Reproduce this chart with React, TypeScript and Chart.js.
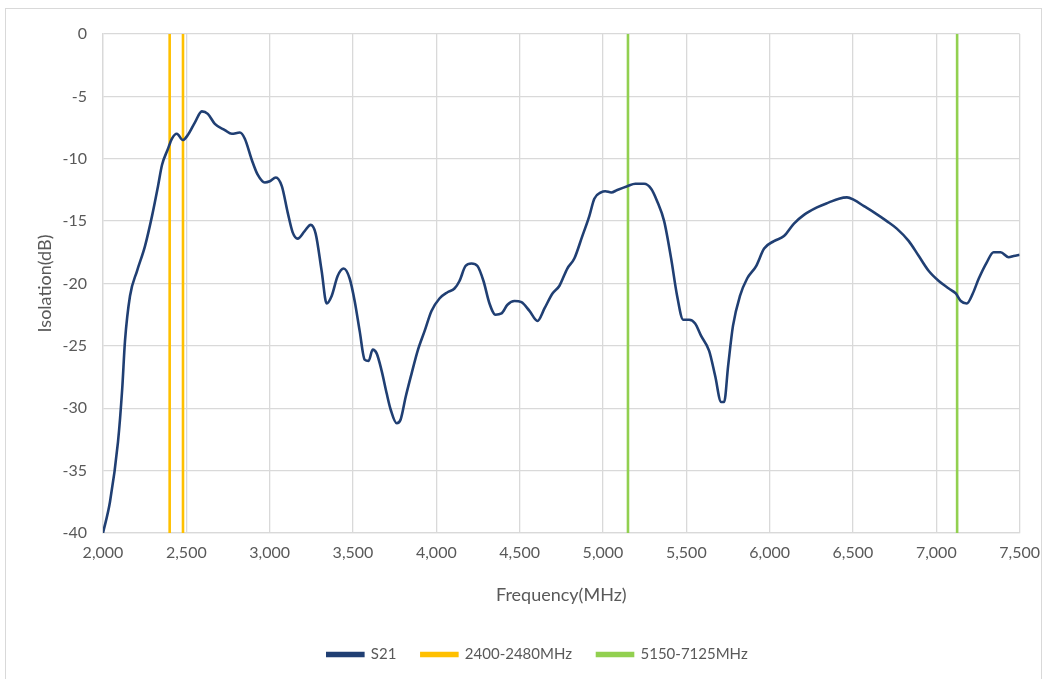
import React, { useEffect, useRef } from "react";
import { Chart, registerables } from "chart.js";

Chart.register(...registerables);

const freqMHz = [
  2000, 2042, 2090, 2115, 2132, 2162, 2204, 2252, 2294, 2330, 2354, 2390, 2413, 2443, 2479, 2509,
  2551, 2593, 2629, 2671, 2731, 2773, 2821, 2851, 2893, 2929, 2971, 3001, 3037, 3073, 3108, 3138,
  3168, 3210, 3246, 3276, 3312, 3342, 3372, 3408, 3444, 3480, 3510, 3540, 3570, 3594, 3618, 3642,
  3672, 3702, 3726, 3762, 3786, 3816, 3852, 3888, 3930, 3971, 4019, 4067, 4109, 4139, 4175, 4211,
  4247, 4283, 4319, 4355, 4391, 4427, 4469, 4511, 4559, 4607, 4649, 4697, 4738, 4786, 4828, 4876,
  4918, 4948, 4988, 5014, 5050, 5086, 5146, 5194, 5247, 5289, 5325, 5367, 5409, 5445, 5481, 5517,
  5553, 5589, 5637, 5673, 5709, 5727, 5751, 5780, 5822, 5865, 5919, 5967, 6026, 6086, 6146, 6206,
  6284, 6356, 6416, 6464, 6506, 6566, 6626, 6703, 6763, 6835, 6895, 6955, 7015, 7075, 7117, 7147,
  7183, 7219, 7255, 7303, 7344, 7386, 7434, 7464, 7500,
];

const s21dB = [
  -40.0, -37.5, -32.7, -28.5, -24.6, -21.0, -19.0, -17.0, -14.6, -12.2, -10.5, -9.2, -8.4, -8.0, -8.5, -8.1,
  -7.1, -6.2, -6.4, -7.2, -7.7, -8.0, -7.9, -8.4, -10.1, -11.3, -11.9, -11.8, -11.5, -12.2, -14.3, -15.9,
  -16.4, -15.8, -15.3, -16.0, -19.0, -21.6, -21.0, -19.4, -18.8, -19.6, -21.4, -23.8, -26.1, -26.2, -25.3, -25.6,
  -27.0, -28.8, -30.1, -31.2, -30.9, -29.1, -27.2, -25.4, -23.8, -22.2, -21.2, -20.7, -20.4, -19.8, -18.6, -18.4,
  -18.6, -19.8, -21.6, -22.5, -22.4, -21.7, -21.4, -21.5, -22.2, -23.0, -22.0, -20.8, -20.2, -18.8, -18.0, -16.2,
  -14.6, -13.2, -12.7, -12.6, -12.7, -12.5, -12.2, -12.0, -12.0, -12.4, -13.4, -15.0, -18.0, -21.0, -22.9, -22.9,
  -23.2, -24.2, -25.4, -27.4, -29.5, -29.5, -26.6, -23.4, -21.0, -19.6, -18.6, -17.2, -16.6, -16.2, -15.2, -14.5,
  -13.9, -13.5, -13.2, -13.1, -13.3, -13.8, -14.3, -15.0, -15.6, -16.6, -17.8, -19.0, -19.8, -20.4, -20.8, -21.4,
  -21.6, -20.8, -19.6, -18.3, -17.5, -17.5, -17.9, -17.8, -17.7,
];

const wifi24Edges = [2400, 2480];
const wifi5to6Edges = [5150, 7125];
const seriesLabels = ["S21", "2400-2480MHz", "5150-7125MHz"];
const seriesColors = ["#203f73", "#ffc000", "#92d050"];
const yRange = [-40, 0];
const xRange = [2000, 7500];

function edgeLines(edges: number[]) {
  const pts: { x: number; y: number | null }[] = [];
  edges.forEach((e, i) => {
    if (i > 0) pts.push({ x: (edges[i - 1] + e) / 2, y: null });
    pts.push({ x: e, y: yRange[1] });
    pts.push({ x: e, y: yRange[0] });
  });
  return pts;
}

const borderPlugin = {
  id: "outerBorder",
  beforeDraw(chart: any) {
    const { ctx } = chart;
    ctx.save();
    ctx.fillStyle = "#ffffff";
    ctx.fillRect(0, 0, chart.width, chart.height);
    ctx.strokeStyle = "#d9d9d9";
    ctx.lineWidth = 1;
    ctx.strokeRect(5.5, 8.5, 1036, 690);
    ctx.restore();
  },
};

const legendShiftPlugin = {
  id: "legendShift",
  afterLayout(chart: any) {
    const lg = chart.legend;
    if (!lg) return;
    const dx = 27;
    const dy = -7;
    lg.left += dx;
    lg.right += dx;
    lg.top += dy;
    lg.bottom += dy;
  },
};

export default function App() {
  const ref = useRef<HTMLCanvasElement | null>(null);

  useEffect(() => {
    document.body.style.margin = "0";
    const canvas = ref.current;
    if (!canvas) return;
    const font = "Lato, 'Liberation Sans', sans-serif";
    const chart = new Chart(canvas, {
      type: "line",
      data: {
        datasets: [
          {
            label: seriesLabels[0],
            data: freqMHz.map((f, i) => ({ x: f, y: s21dB[i] })),
            borderColor: seriesColors[0],
            backgroundColor: seriesColors[0],
            borderWidth: 2.6,
            pointRadius: 0,
            cubicInterpolationMode: "monotone",
          },
          {
            label: seriesLabels[1],
            data: edgeLines(wifi24Edges),
            borderColor: seriesColors[1],
            backgroundColor: seriesColors[1],
            borderWidth: 2.6,
            pointRadius: 0,
            spanGaps: false,
          },
          {
            label: seriesLabels[2],
            data: edgeLines(wifi5to6Edges),
            borderColor: seriesColors[2],
            backgroundColor: seriesColors[2],
            borderWidth: 2.6,
            pointRadius: 0,
            spanGaps: false,
          },
        ],
      },
      options: {
        animation: false,
        responsive: false,
        layout: { padding: { left: 0, right: 29, top: 34, bottom: 0 } },
        plugins: {
          tooltip: { enabled: false },
          legend: {
            position: "bottom",
            labels: {
              boxWidth: 36,
              boxHeight: 3,
              padding: 25,
              color: "#595959",
              font: { family: font, size: 15 },
            },
          },
        },
        scales: {
          x: {
            type: "linear",
            min: xRange[0],
            max: xRange[1],
            afterFit: (s: any) => {
              s.height = 96;
            },
            grid: { color: "#d9d9d9", lineWidth: 1.3, drawTicks: false },
            border: { color: "#d9d9d9", width: 1.3 },
            ticks: {
              stepSize: 500,
              padding: 10,
              color: "#595959",
              font: { family: font, size: 16 },
              maxRotation: 0,
              callback: (v: any) => Number(v).toLocaleString("en-US"),
            },
            title: {
              display: true,
              text: "Frequency(MHz)",
              color: "#595959",
              font: { family: font, size: 18 },
              padding: { top: 0, bottom: 23 },
            },
          },
          y: {
            type: "linear",
            min: yRange[0],
            max: yRange[1],
            afterFit: (s: any) => {
              s.width = 103;
            },
            grid: { color: "#d9d9d9", lineWidth: 1.3, drawTicks: false },
            border: { color: "#d9d9d9", width: 1.3 },
            ticks: {
              stepSize: 5,
              padding: 16,
              color: "#595959",
              font: { family: font, size: 16 },
            },
            title: {
              display: true,
              text: "Isolation(dB)",
              color: "#595959",
              font: { family: font, size: 18 },
              padding: { top: 34, bottom: 0 },
            },
          },
        },
      },
      plugins: [borderPlugin, legendShiftPlugin],
    } as any);
    return () => chart.destroy();
  }, []);

  return (
    <div style={{ width: 1050, height: 679 }}>
      <canvas ref={ref} width={1050} height={679} style={{ display: "block" }} />
    </div>
  );
}
